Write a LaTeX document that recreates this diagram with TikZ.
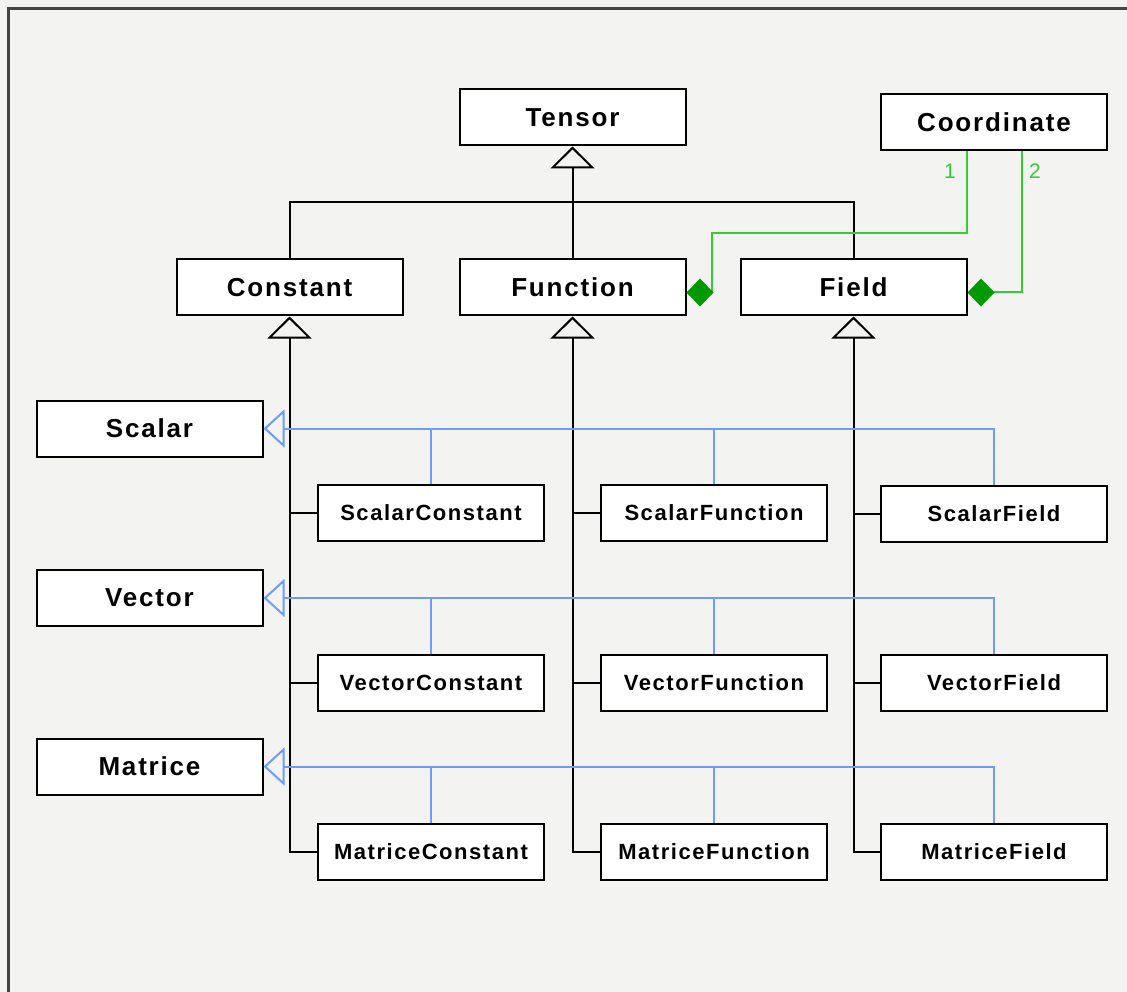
\documentclass[tikz,border=0pt]{standalone}
\usepackage{fontspec}
\setmainfont{Liberation Sans}
\newfontfamily\umlfont[LetterSpace=7]{Liberation Sans}
\usetikzlibrary{arrows.meta}
\definecolor{bggray}{HTML}{F3F4F2}
\definecolor{framegray}{HTML}{444444}
\definecolor{implblue}{HTML}{6F9BFF}
\definecolor{assocgreen}{HTML}{33CC33}
\definecolor{diamondgreen}{HTML}{009A00}

\begin{document}
\begin{tikzpicture}[x=1pt, y=-1pt,
    cls/.style={draw, line width=2pt, fill=white, minimum width=226pt, minimum height=56pt, inner sep=0pt,
        font={\umlfont\bfseries\fontsize{26}{30}\selectfont}},
    subcls/.style={cls, font={\umlfont\bfseries\fontsize{22}{26}\selectfont}},
    gen/.style={line width=2pt, -{Triangle[open, length=22pt, width=44pt]}},
    impl/.style={implblue, line width=2pt, -{Triangle[open, length=21pt, width=38pt]}},
    link/.style={line width=2pt},
    assoc/.style={assocgreen, line width=2pt, -{Diamond[length=27pt, width=28pt, fill=diamondgreen, color=diamondgreen]}},
    mult/.style={text=assocgreen, font=\fontsize{21}{25}\selectfont}]
    % page
    \useasboundingbox[fill=bggray] (0,0) rectangle (1127,992);
    \draw[framegray, line width=3pt] (8,992) -- (8,9) -- (1127,9);

    % top level
    \node[cls] (tensor) at (572.5,117.5) {Tensor};
    \node[cls] (coord) at (994,122) {Coordinate};
    \node[cls] (const) at (289.5,287.5) {Constant};
    \node[cls] (func) at (572.5,287.5) {Function};
    \node[cls] (field) at (853.5,287.5) {Field};

    % interfaces
    \node[cls] (scalar) at (149.5,428.5) {Scalar};
    \node[cls] (vector) at (149.5,598) {Vector};
    \node[cls] (matrice) at (149.5,766.5) {Matrice};

    % concrete classes
    \node[subcls] (scon) at (431,513) {ScalarConstant};
    \node[subcls] (sfun) at (714,513) {ScalarFunction};
    \node[subcls] (sfld) at (994,513.5) {ScalarField};
    \node[subcls] (vcon) at (431,682.5) {VectorConstant};
    \node[subcls] (vfun) at (714,682.5) {VectorFunction};
    \node[subcls] (vfld) at (994,682.5) {VectorField};
    \node[subcls] (mcon) at (431,851.5) {MatriceConstant};
    \node[subcls] (mfun) at (714,851.5) {MatriceFunction};
    \node[subcls] (mfld) at (994,851.5) {MatriceField};

    % Tensor hierarchy
    \coordinate (tj) at (572.5,202);
    \draw[link] (const.north) |- (tj) -| (field.north);
    \draw[link] (func.north) -- (tj);
    \path[gen] (tj) edge (tensor.south);

    % Constant / Function / Field hierarchies
    \draw[gen] (mcon.west) -| (const.south);
    \draw[gen] (mfun.west) -| (func.south);
    \draw[gen] (mfld.west) -| (field.south);
    \draw[link] (scon.west) -- (scon.west -| const.south);
    \draw[link] (vcon.west) -- (vcon.west -| const.south);
    \draw[link] (sfun.west) -- (sfun.west -| func.south);
    \draw[link] (vfun.west) -- (vfun.west -| func.south);
    \draw[link] (sfld.west) -- (sfld.west -| field.south);
    \draw[link] (vfld.west) -- (vfld.west -| field.south);

    % interfaces
    \draw[impl] (sfld.north) |- (scalar.east);
    \draw[implblue, line width=2pt] (scon.north) -- (scon.north |- scalar.east);
    \draw[implblue, line width=2pt] (sfun.north) -- (sfun.north |- scalar.east);
    \draw[impl] (vfld.north) |- (vector.east);
    \draw[implblue, line width=2pt] (vcon.north) -- (vcon.north |- vector.east);
    \draw[implblue, line width=2pt] (vfun.north) -- (vfun.north |- vector.east);
    \draw[impl] (mfld.north) |- (matrice.east);
    \draw[implblue, line width=2pt] (mcon.north) -- (mcon.north |- matrice.east);
    \draw[implblue, line width=2pt] (mfun.north) -- (mfun.north |- matrice.east);

    % Coordinate compositions
    \coordinate (bend1) at (712,233);
    \draw[assoc] ([xshift=-27pt]coord.south) |- (bend1) |- ([yshift=-5pt]func.east);
    \draw[assoc] ([xshift=28pt]coord.south) |- ([yshift=-5pt]field.east);
    \node[mult] (one) at (950,171) {1};
    \node[mult] (two) at (1035,171) {2};
\end{tikzpicture}
\end{document}
